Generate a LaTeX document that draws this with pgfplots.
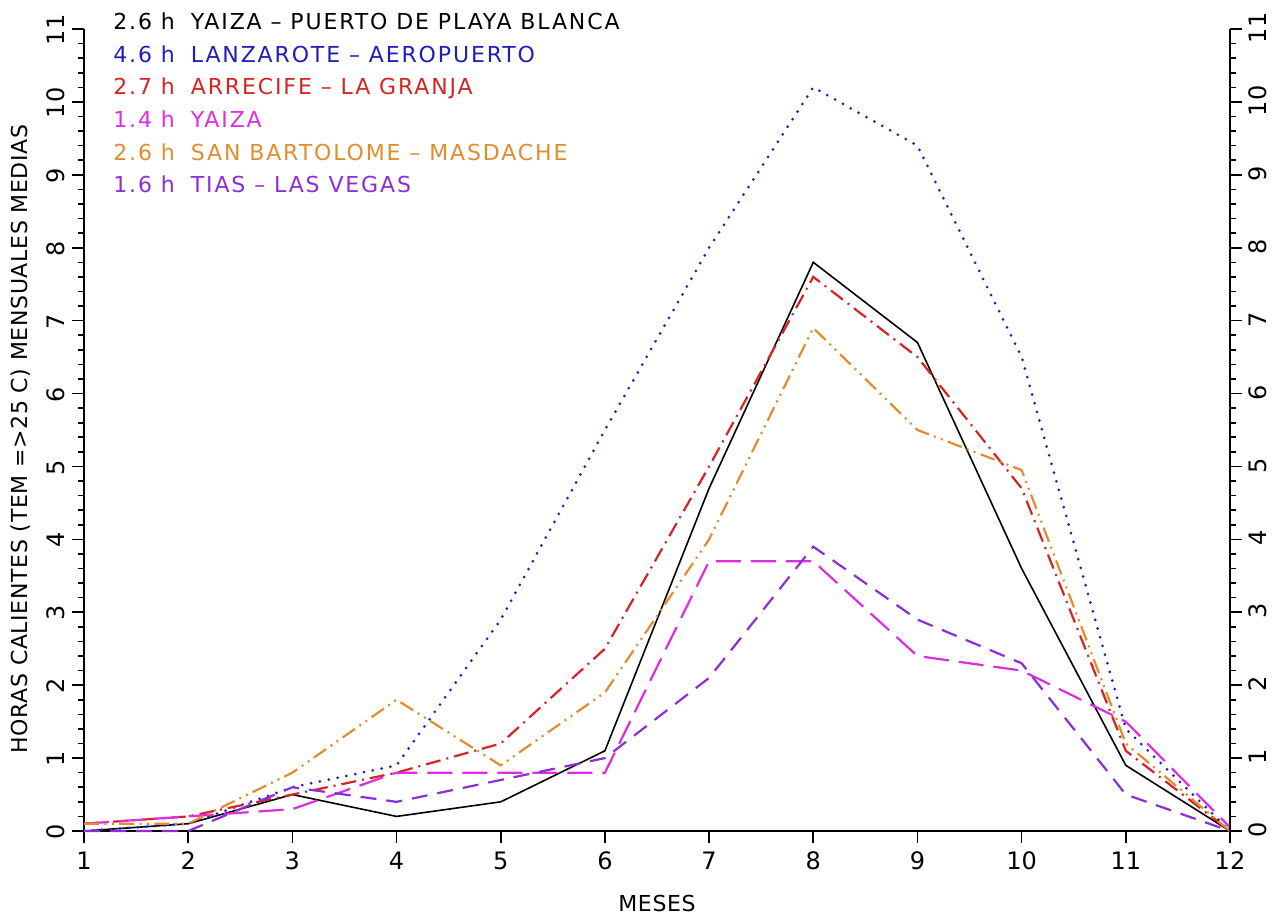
\documentclass[border=0pt]{standalone}
\usepackage{fontspec}
\setmainfont{DejaVu Sans}
\newfontfamily\legfont[LetterSpace=8.5]{DejaVu Sans}
\newfontfamily\labfont[LetterSpace=3]{DejaVu Sans}
\usepackage{pgfplots}
\pgfplotsset{compat=1.18}
\definecolor{cblue}{RGB}{30,30,190}
\definecolor{cred}{RGB}{215,35,35}
\definecolor{cmag}{RGB}{220,45,225}
\definecolor{corange}{RGB}{225,140,45}
\definecolor{cpurple}{RGB}{140,45,220}
\pgfplotsset{
  common/.style={
    at={(0,0)}, anchor=south west, scale only axis,
    width=573bp, height=401bp,
    xmin=1, xmax=12, ymin=0, ymax=11,
    tick align=outside,
    major tick length=6bp, minor tick length=3bp,
    axis line style={line width=0.8bp, black},
    every tick/.style={line width=0.8bp, black},
    /pgf/number format/assume math mode=true,
    ticklabel style={font=\fontsize{12bp}{14bp}\selectfont},
    label style={font=\labfont\fontsize{11bp}{13bp}\selectfont},
    ytick={0,...,11}, minor y tick num=4,
  }
}
\begin{document}
\begin{tikzpicture}
\useasboundingbox (-42bp,-42.5bp) rectangle (599.5bp,415.5bp);
\begin{axis}[common,
  axis x line*=bottom, axis y line*=left,
  xtick={1,...,12},
  xticklabel style={yshift=-1bp},
  yticklabel style={rotate=90, anchor=south, xshift=-0.5bp},
  xlabel={MESES},
  xlabel style={at={(axis description cs:0.5,0)}, anchor=center, yshift=-36bp},
  ylabel={HORAS CALIENTES (TEM =>25 C) MENSUALES MEDIAS},
  ylabel style={at={(axis description cs:0,0.5)}, anchor=center, yshift=31.5bp, xshift=-4.5bp},
  clip=false]
% YAIZA - PUERTO DE PLAYA BLANCA
\addplot[black, line width=0.8bp] coordinates {(1,0) (2,0.1) (3,0.5) (4,0.2) (5,0.4) (6,1.1) (7,4.7) (8,7.8) (9,6.7) (10,3.6) (11,0.9) (12,0)};
% LANZAROTE - AEROPUERTO
\addplot[cblue, line width=1.5bp, line cap=round, dash pattern=on 0pt off 4.5bp] coordinates {(1,0) (2,0.1) (3,0.6) (4,0.9) (5,2.9) (6,5.5) (7,8.0) (8,10.2) (9,9.4) (10,6.5) (11,1.4) (12,0)};
% ARRECIFE - LA GRANJA
\addplot[cred, line width=1.1bp, dash pattern=on 7.5bp off 3bp on 1bp off 3bp] coordinates {(1,0.1) (2,0.2) (3,0.5) (4,0.8) (5,1.2) (6,2.5) (7,5.0) (8,7.6) (9,6.5) (10,4.7) (11,1.1) (12,0)};
% YAIZA
\addplot[cmag, line width=1.1bp, dash pattern=on 12.5bp off 5bp] coordinates {(1,0.1) (2,0.2) (3,0.3) (4,0.8) (5,0.8) (6,0.8) (7,3.7) (8,3.7) (9,2.4) (10,2.2) (11,1.5) (12,0.05)};
% SAN BARTOLOME - MASDACHE
\addplot[corange, line width=1.1bp, dash pattern=on 7.5bp off 2.7bp on 1bp off 2.7bp on 1bp off 2.7bp] coordinates {(1,0.1) (2,0.1) (3,0.8) (4,1.8) (5,0.9) (6,1.9) (7,4.0) (8,6.9) (9,5.5) (10,4.95) (11,1.2) (12,0)};
% TIAS - LAS VEGAS
\addplot[cpurple, line width=1.1bp, dash pattern=on 8bp off 5bp] coordinates {(1,0) (2,0) (3,0.6) (4,0.4) (5,0.7) (6,1.0) (7,2.1) (8,3.9) (9,2.9) (10,2.3) (11,0.5) (12,0)};
\begin{scope}[every node/.style={anchor=base west, inner sep=0pt, font=\legfont\fontsize{11bp}{13bp}\selectfont}]
\node[text=black]   at (axis cs:1.278,10.99) {2.6 h\hspace{8bp}YAIZA – PUERTO DE PLAYA BLANCA};
\node[text=cblue]   at (axis cs:1.278,10.545) {4.6 h\hspace{8bp}LANZAROTE – AEROPUERTO};
\node[text=cred]    at (axis cs:1.278,10.10) {2.7 h\hspace{8bp}ARRECIFE – LA GRANJA};
\node[text=cmag]    at (axis cs:1.278,9.65) {1.4 h\hspace{8bp}YAIZA};
\node[text=corange] at (axis cs:1.278,9.20) {2.6 h\hspace{8bp}SAN BARTOLOME – MASDACHE};
\node[text=cpurple] at (axis cs:1.278,8.76) {1.6 h\hspace{8bp}TIAS – LAS VEGAS};
\end{scope}
\end{axis}
\begin{axis}[common,
  axis x line=none, axis y line*=right,
  yticklabel style={rotate=90, anchor=north, xshift=0.5bp}]
\end{axis}
\end{tikzpicture}
\end{document}
